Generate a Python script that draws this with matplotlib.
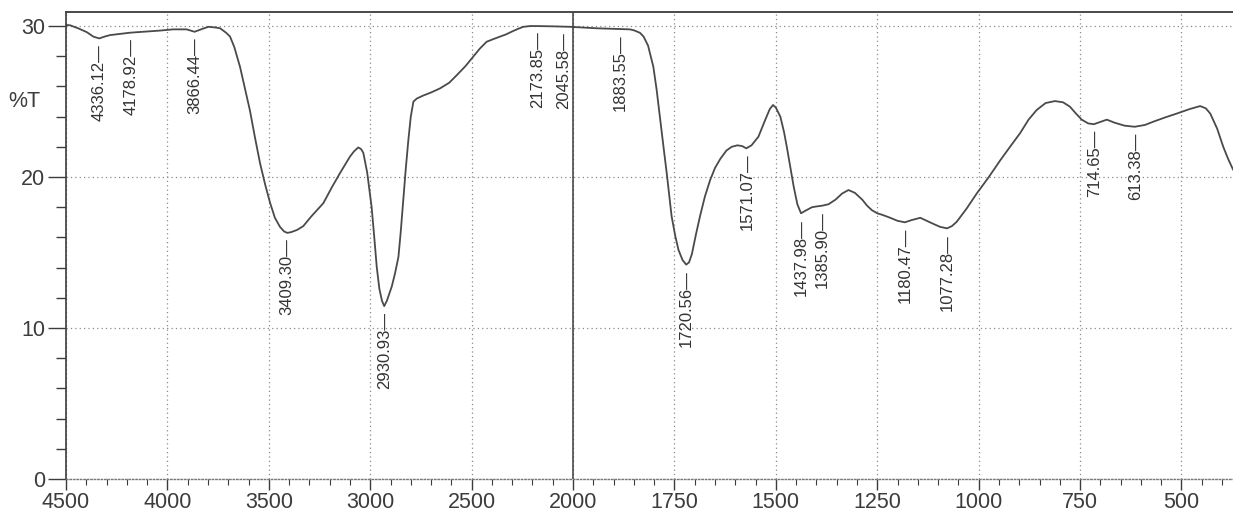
import numpy as np
import matplotlib
matplotlib.use('Agg')
import matplotlib.pyplot as plt
from matplotlib.ticker import FixedLocator, NullFormatter

plt.rcParams['font.family'] = ['Liberation Sans', 'DejaVu Sans']

# wavenumber (cm-1) and transmittance (%T)
WAVENUMBER = [4500, 4480, 4440, 4398, 4365, 4336, 4310, 4283, 4184, 4036,
              3971, 3905, 3866, 3830, 3798, 3760, 3740, 3710, 3691, 3670,
              3642, 3620, 3593, 3568, 3543, 3518, 3494, 3470, 3445, 3425,
              3409, 3390, 3360, 3330, 3290, 3231, 3190, 3149, 3120, 3100,
              3080, 3059, 3045, 3034, 3015, 2993, 2980, 2968, 2955, 2942,
              2931, 2918, 2905, 2894, 2878, 2861, 2850, 2837, 2825, 2812,
              2800, 2787, 2770, 2738, 2700, 2656, 2610, 2573, 2530, 2492,
              2460, 2426, 2390, 2360, 2330, 2302, 2270, 2245, 2210, 2179,
              2100, 2015, 1941, 1880, 1860, 1850, 1835, 1826, 1815, 1802,
              1794, 1786, 1777, 1769, 1757, 1748, 1740, 1730, 1721, 1714,
              1707, 1697, 1687, 1675, 1662, 1650, 1637, 1622, 1609, 1595,
              1583, 1573, 1560, 1543, 1535, 1526, 1515, 1507, 1500, 1489,
              1480, 1473, 1464, 1456, 1447, 1438, 1425, 1411, 1400, 1386,
              1370, 1353, 1337, 1321, 1305, 1287, 1275, 1263, 1250, 1238,
              1218, 1200, 1182, 1165, 1144, 1128, 1112, 1095, 1078, 1066,
              1054, 1030, 1005, 975, 947, 920, 898, 877, 857, 835,
              812, 792, 775, 760, 746, 730, 716, 700, 684, 665,
              640, 615, 590, 569, 540, 512, 480, 454, 440, 429,
              412, 397, 385, 373]
TRANSMITTANCE = [30.07, 30.05, 29.85, 29.6, 29.3, 29.18, 29.3, 29.4, 29.56, 29.7,
                 29.78, 29.78, 29.62, 29.8, 29.95, 29.9, 29.85, 29.55, 29.3, 28.6,
                 27.3, 26.0, 24.4, 22.6, 20.9, 19.5, 18.3, 17.3, 16.7, 16.4,
                 16.3, 16.35, 16.5, 16.75, 17.4, 18.27, 19.3, 20.26, 20.9, 21.35,
                 21.7, 21.96, 21.85, 21.6, 20.3, 18.0, 16.0, 14.06, 12.6, 11.8,
                 11.45, 11.8, 12.3, 12.74, 13.6, 14.7, 16.3, 18.5, 20.5, 22.45,
                 24.0, 25.0, 25.2, 25.4, 25.6, 25.87, 26.25, 26.75, 27.35, 27.97,
                 28.5, 28.96, 29.15, 29.3, 29.45, 29.63, 29.82, 29.95, 30.0, 30.0,
                 29.98, 29.95, 29.85, 29.8, 29.78, 29.72, 29.55, 29.3, 28.7, 27.3,
                 25.8, 24.0, 22.0, 20.25, 17.4, 16.1, 15.17, 14.5, 14.2, 14.35,
                 14.9, 16.2, 17.4, 18.7, 19.8, 20.6, 21.2, 21.75, 22.0, 22.1,
                 22.05, 21.9, 22.1, 22.67, 23.2, 23.8, 24.5, 24.77, 24.6, 24.0,
                 23.0, 22.0, 20.6, 19.36, 18.2, 17.6, 17.8, 18.0, 18.05, 18.1,
                 18.2, 18.5, 18.9, 19.14, 18.95, 18.5, 18.1, 17.8, 17.6, 17.5,
                 17.3, 17.1, 17.0, 17.15, 17.3, 17.1, 16.9, 16.7, 16.6, 16.75,
                 17.04, 17.9, 18.9, 20.0, 21.1, 22.1, 22.9, 23.8, 24.44, 24.9,
                 25.03, 24.95, 24.66, 24.2, 23.8, 23.55, 23.5, 23.65, 23.8, 23.6,
                 23.4, 23.33, 23.45, 23.67, 23.95, 24.2, 24.5, 24.7, 24.55, 24.2,
                 23.2, 22.0, 21.2, 20.5]

PEAKS = [4336.12, 4178.92, 3866.44, 3409.30, 2930.93, 2173.85, 2045.58, 1883.55,
         1720.56, 1571.07, 1437.98, 1385.90, 1180.47, 1077.28, 714.65, 613.38]

X_MAJOR = [4500, 4000, 3500, 3000, 2500, 2000, 1750, 1500, 1250, 1000, 750, 500]
X_MINOR = list(range(4500, 2000, -100)) + list(range(2000, 350, -50))
Y_MAJOR = [0, 10, 20, 30]
Y_MINOR = list(range(0, 31, 2))
BREAK_WN = 2000


def forward(x):
    x = np.asarray(x, dtype=float)
    return np.where(x >= BREAK_WN, x, 2 * x - BREAK_WN)


def inverse(y):
    y = np.asarray(y, dtype=float)
    return np.where(y >= BREAK_WN, y, (y + BREAK_WN) / 2)


fig = plt.figure(figsize=(12.33, 5.2), dpi=100)
ax = fig.add_axes([66 / 1233, 41 / 520, 1 - 66 / 1233, 467 / 520])
ax.set_xscale('function', functions=(forward, inverse))
ax.set_xlim(4500, 373)
ax.set_ylim(0, 30.93)

dark = '#3c3c3c'
ax.plot(WAVENUMBER, TRANSMITTANCE, color='#4a4a4a', lw=1.3)

ax.xaxis.set_major_locator(FixedLocator(X_MAJOR))
ax.xaxis.set_minor_locator(FixedLocator(X_MINOR))
ax.xaxis.set_minor_formatter(NullFormatter())
ax.yaxis.set_major_locator(FixedLocator(Y_MAJOR))
ax.yaxis.set_minor_locator(FixedLocator(Y_MINOR))
ax.yaxis.set_minor_formatter(NullFormatter())

ax.tick_params(axis='x', which='major', direction='out', length=8, width=1,
               color=dark, labelsize=15.5, labelcolor=dark, pad=1)
ax.tick_params(axis='x', which='minor', direction='out', length=4, width=0.8,
               color=dark)
ax.tick_params(axis='y', which='major', direction='out', length=13, width=1,
               color=dark, labelsize=15.5, labelcolor=dark, pad=2)
ax.tick_params(axis='y', which='minor', direction='out', length=7, width=1,
               color=dark)

ax.grid(True, which='major', color='#8a8a8a', linestyle=(0, (1, 2.5)), lw=0.9)
ax.axvline(BREAK_WN, color=dark, lw=1.1)

ax.spines['right'].set_visible(False)
ax.spines['top'].set_color(dark)
ax.spines['top'].set_linewidth(1.3)
ax.spines['left'].set_color(dark)
ax.spines['left'].set_linewidth(1.2)
ax.spines['bottom'].set_color('#777777')
ax.spines['bottom'].set_linestyle((0, (1, 1.5)))
ax.spines['bottom'].set_linewidth(1.0)

ax.text(-0.022, 25, '%T', transform=ax.get_yaxis_transform(), ha='right',
        va='center', fontsize=15.5, color=dark)

wn_inc = np.array(WAVENUMBER[::-1], dtype=float)
t_inc = np.array(TRANSMITTANCE[::-1], dtype=float)
for p in PEAKS:
    yv = np.interp(p, wn_inc, t_inc)
    ax.annotate(f'{p:.2f}\u2014', xy=(p, yv), xytext=(0, -4),
                textcoords='offset points', rotation=90, ha='center', va='top',
                fontsize=12, color='#333333')

fig.savefig('out.png', dpi=100, facecolor='white')
